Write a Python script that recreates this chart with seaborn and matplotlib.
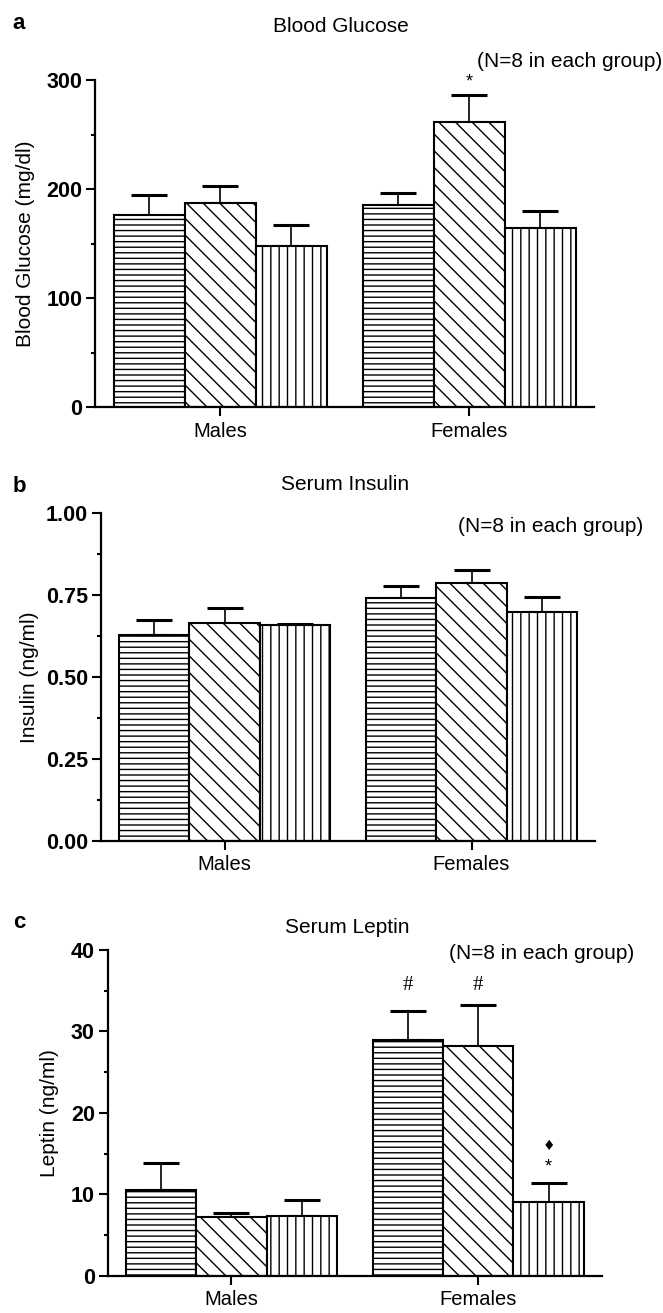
import numpy as np
import pandas as pd
import matplotlib
matplotlib.use("Agg")
import matplotlib.pyplot as plt
from matplotlib.ticker import MultipleLocator, FormatStrFormatter
import seaborn as sns

# ---------------- data ----------------
sexes = ["Males", "Females"]
groups = ["Group 1", "Group 2", "Group 3"]
hatches = ["---", "\\\\", "||"]

glucose_males = [176, 187.5, 148]
glucose_males_err = [18.5, 15, 18.7]
glucose_females = [185, 261.5, 164.5]
glucose_females_err = [11, 24.7, 15]

insulin_males = [0.629, 0.665, 0.658]
insulin_males_err = [0.046, 0.047, 0.005]
insulin_females = [0.742, 0.788, 0.700]
insulin_females_err = [0.036, 0.039, 0.045]

leptin_males = [10.5, 7.17, 7.34]
leptin_males_err = [3.3, 0.58, 2.0]
leptin_females = [29.0, 28.2, 9.0]
leptin_females_err = [3.5, 5.0, 2.4]

glucose_ticks = [0, 100, 200, 300]
insulin_ticks = [0.00, 0.25, 0.50, 0.75, 1.00]
leptin_ticks = [0, 10, 20, 30, 40]

titles = ["Blood Glucose", "Serum Insulin", "Serum Leptin"]
ylabels = ["Blood Glucose (mg/dl)", "Insulin (ng/ml)", "Leptin (ng/ml)"]
letters = ["a", "b", "c"]
note = "(N=8 in each group)"

# ---------------- style ----------------
sns.set_style("ticks")
plt.rcParams["font.family"] = ["Liberation Sans", "DejaVu Sans"]
plt.rcParams["hatch.linewidth"] = 1.0
plt.rcParams["hatch.color"] = "black"
plt.rcParams["text.color"] = "black"
plt.rcParams["axes.labelcolor"] = "black"
plt.rcParams["xtick.color"] = "black"
plt.rcParams["ytick.color"] = "black"

W, H = 663, 1313
fig = plt.figure(figsize=(W / 100, H / 100), dpi=100)

def fx(px):
    return px / W

def fy(py):
    return 1 - py / H

# axes boxes in pixels: left, right, top, bottom
boxes = [(95.5, 594, 80, 407), (101, 595, 513.3, 840.7), (108, 601.6, 950, 1275.7)]
panels = [
    (glucose_males, glucose_males_err, glucose_females, glucose_females_err, glucose_ticks, 50, "%d"),
    (insulin_males, insulin_males_err, insulin_females, insulin_females_err, insulin_ticks, 0.125, "%.2f"),
    (leptin_males, leptin_males_err, leptin_females, leptin_females_err, leptin_ticks, 5, "%d"),
]
ylabel_x = [-0.1404, -0.1457, -0.1195]
title_pos = [(340.5, 31.7), (344.7, 490), (347, 933)]
note_pos = [(662, 66.7), (643, 531.7), (634, 959.3)]
letter_pos = [(12.7, 29), (12.7, 491.7), (12.7, 928)]

axes = []
bar_sets = []
for i, (box, pdata) in enumerate(zip(boxes, panels)):
    l, r, t, b = box
    ax = fig.add_axes([fx(l), fy(b), (r - l) / W, (b - t) / H])
    axes.append(ax)
    males, males_err, females, females_err, ticks, minor, fmt = pdata
    rows = []
    for g, mv, fv in zip(groups, males, females):
        rows.append({"sex": "Males", "group": g, "value": mv})
        rows.append({"sex": "Females", "group": g, "value": fv})
    df = pd.DataFrame(rows)
    sns.barplot(data=df, x="sex", y="value", hue="group", order=sexes,
                hue_order=groups, palette=["white"] * 3, saturation=1,
                edgecolor="black", linewidth=1.5, width=0.855,
                errorbar=None, legend=False, ax=ax, zorder=2)
    conts = list(ax.containers)
    bar_sets.append(conts)
    errs = {"Males": males_err, "Females": females_err}
    for gi, cont in enumerate(conts):
        xs, ys, es = [], [], []
        for si, bar in enumerate(cont):
            bar.set_hatch(hatches[gi])
            bar.set_edgecolor("black")
            xs.append(bar.get_x() + bar.get_width() / 2)
            ys.append(bar.get_height())
            es.append(errs[sexes[si]][gi])
        ax.errorbar(xs, ys, yerr=[np.zeros(len(es)), es], fmt="none",
                    ecolor="black", elinewidth=1.2, capsize=13, capthick=2.2,
                    zorder=1)
    ax.set_xlim(-0.5, 1.5)
    ax.set_ylim(ticks[0], ticks[-1])
    ax.set_yticks(ticks)
    ax.yaxis.set_major_formatter(FormatStrFormatter(fmt))
    ax.yaxis.set_minor_locator(MultipleLocator(minor))
    ax.set_xlabel("")
    ax.set_ylabel(ylabels[i], fontsize=15, va="center", color="black")
    ax.yaxis.set_label_coords(ylabel_x[i], 0.5)
    sns.despine(ax=ax)
    for s in ["left", "bottom"]:
        ax.spines[s].set_linewidth(1.6)
        ax.spines[s].set_color("black")
    ax.tick_params(axis="y", which="major", length=6.5, width=1.5, pad=3,
                   labelsize=15.5, colors="black")
    ax.tick_params(axis="y", which="minor", length=3, width=1.5, colors="black")
    ax.tick_params(axis="x", which="major", length=6.5, width=1.5, pad=4,
                   labelsize=14.5, colors="black")
    for lab in ax.get_yticklabels():
        lab.set_fontweight("bold")
    ax.set_facecolor("none")

    fig.text(fx(title_pos[i][0]), fy(title_pos[i][1]), titles[i], fontsize=15,
             ha="center", va="baseline", color="black")
    fig.text(fx(note_pos[i][0]), fy(note_pos[i][1]), note, fontsize=15,
             ha="right", va="baseline", color="black")
    fig.text(fx(letter_pos[i][0]), fy(letter_pos[i][1]), letters[i], fontsize=16,
             fontweight="bold", ha="left", va="baseline", color="black")

# significance markers
ax = axes[0]
bar = bar_sets[0][1][1]
ax.text(bar.get_x() + bar.get_width() / 2, 298, "*", ha="center", va="center",
        fontsize=13, color="black")

ax = axes[2]
for gi in [0, 1]:
    bar = bar_sets[2][gi][1]
    ax.text(bar.get_x() + bar.get_width() / 2, 35.7, "#", ha="center",
            va="center", fontsize=15, family="Liberation Serif", color="black")
bar = bar_sets[2][2][1]
ax.text(bar.get_x() + bar.get_width() / 2, 15.9, "\u2666", ha="center",
        va="center", fontsize=10, family=["DejaVu Sans"], color="black")
ax.text(bar.get_x() + bar.get_width() / 2, 13.4, "*", ha="center",
        va="center", fontsize=13, color="black")

fig.savefig("out.png", dpi=100)
